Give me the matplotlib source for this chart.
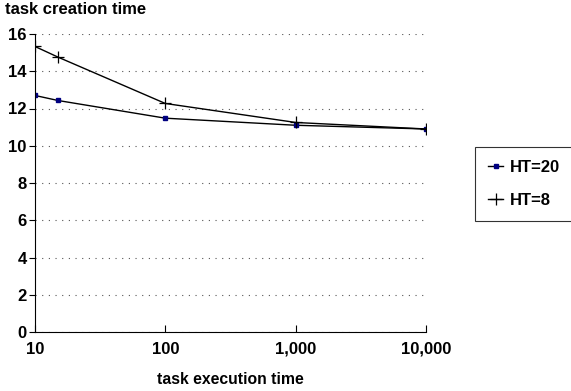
import matplotlib
matplotlib.use("Agg")
import matplotlib.pyplot as plt
from matplotlib.ticker import FixedLocator, FuncFormatter

plt.rcParams['font.family'] = ['Liberation Sans', 'DejaVu Sans']
plt.rcParams['font.weight'] = 'bold'

x_vals = [10, 15, 100, 1000, 10000]
ht20 = [12.7, 12.43, 11.48, 11.1, 10.9]
ht8 = [15.33, 14.76, 12.27, 11.25, 10.9]
y_ticks = [0, 2, 4, 6, 8, 10, 12, 14, 16]
x_ticks = [10, 100, 1000, 10000]

fig = plt.figure(figsize=(5.71, 3.91), dpi=100)
ax = fig.add_axes([35/571, 1 - 332/391, (426-35)/571, (332-34)/391])

ax.plot(x_vals, ht20, color='black', lw=1.0, marker='s', markersize=3,
        markerfacecolor='#000080', markeredgecolor='#000080', label='HT=20')
ax.plot(x_vals, ht8, color='black', lw=1.0, marker='+', markersize=9,
        markeredgewidth=0.9, label='HT=8')

ax.set_xscale('log')
ax.set_xlim(10, 10000)
ax.set_ylim(0, 16)
ax.xaxis.set_major_locator(FixedLocator(x_ticks))
ax.xaxis.set_minor_locator(FixedLocator([]))
ax.xaxis.set_major_formatter(FuncFormatter(lambda v, p: f"{int(round(v)):,}"))
ax.set_yticks(y_ticks)
ax.tick_params(axis='x', direction='in', length=5, labelsize=12, pad=7)
ax.tick_params(axis='y', direction='out', length=4, labelsize=12, pad=2)
for lab in ax.get_xticklabels() + ax.get_yticklabels():
    lab.set_fontweight('bold')

ax.spines['top'].set_visible(False)
ax.spines['right'].set_visible(False)
ax.yaxis.grid(True, linestyle=(0, (1, 5)), color='#555555', lw=0.8)
ax.set_axisbelow(True)

ax.set_xlabel('task execution time', fontsize=11.3, fontweight='bold', labelpad=11)
fig.text(5/571, 1 - 10/391, 'task creation time', fontsize=12, fontweight='bold',
         va='center', ha='left')

leg = fig.legend(loc='upper left', bbox_to_anchor=(475/571, 1 - 147/391),
                 frameon=True, fancybox=False, edgecolor='black', fontsize=12,
                 handlelength=0.9, handletextpad=0.4, borderpad=0.8, labelspacing=1.05,
                 borderaxespad=0)
leg.get_frame().set_linewidth(0.8)
for t in leg.get_texts():
    t.set_fontweight('bold')

fig.savefig('out.png', dpi=100)
